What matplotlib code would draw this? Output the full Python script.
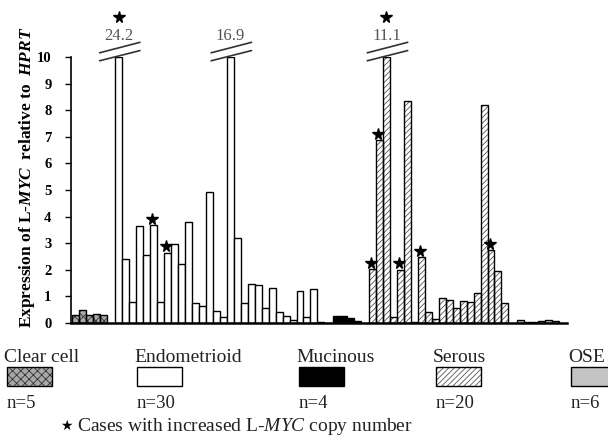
import matplotlib
matplotlib.use("Agg")
import matplotlib.pyplot as plt
from matplotlib.patches import Rectangle
import numpy as np

# ---------------- data ----------------
groups = ["Clear cell", "Endometrioid", "Mucinous", "Serous", "OSE"]
n_labels = ["n=5", "n=30", "n=4", "n=20", "n=6"]
clear_cell = [0.30, 0.50, 0.30, 0.32, 0.30]
endometrioid = [24.2, 2.40, 0.78, 3.66, 2.57, 3.68, 0.78, 2.65, 2.97, 2.22,
                3.81, 0.74, 0.64, 4.91, 0.45, 0.24, 16.9, 3.20, 0.76, 1.45,
                1.42, 0.56, 1.30, 0.40, 0.26, 0.10, 1.21, 0.22, 1.26, 0.03]
mucinous = [0.26, 0.26, 0.18, 0.09]
serous = [2.03, 6.88, 11.1, 0.22, 2.00, 8.35, 0.04, 2.48, 0.40, 0.16,
          0.94, 0.88, 0.55, 0.81, 0.79, 1.14, 8.18, 2.73, 1.96, 0.74]
ose = [0.10, 0.02, 0.02, 0.08, 0.10, 0.06]
stars_endometrioid = [0, 5, 7]
stars_serous = [0, 1, 2, 4, 7, 17]
y_ticks = list(range(0, 11))
y_max = 10
star_note = "Cases with increased L-$\\mathit{MYC}$ copy number"

plt.rcParams["font.family"] = ["Liberation Serif", "DejaVu Serif"]
plt.rcParams["mathtext.fontset"] = "custom"
plt.rcParams["mathtext.rm"] = "Liberation Serif"
plt.rcParams["mathtext.it"] = "Liberation Serif:italic"
plt.rcParams["mathtext.bf"] = "Liberation Serif:bold:italic"
plt.rcParams["hatch.linewidth"] = 0.6

W, H = 608, 446
fig = plt.figure(figsize=(W / 100, H / 100), dpi=100)
ax = fig.add_axes([71 / W, 123 / H, 496 / W, 266 / H])

series = [clear_cell, endometrioid, mucinous, serous, ose]
styles = [
    dict(fc="#a8a8a8", hatch="xxxx", hc="#333333"),
    dict(fc="white", hatch=None, hc=None),
    dict(fc="black", hatch=None, hc=None),
    dict(fc="white", hatch="//////", hc="#555555"),
    dict(fc="#c4c4c4", hatch=None, hc=None),
]
gap = 1.2
starts = []
pos = 0.0
for s in series:
    starts.append(pos)
    pos += len(s) + gap

centers = []
for s, st, sty in zip(series, starts, styles):
    x = st + np.arange(len(s))
    h = np.minimum(np.array(s), y_max)
    if sty["hatch"]:
        ax.bar(x, h, width=1.0, align="edge", facecolor=sty["fc"],
               edgecolor=sty["hc"], hatch=sty["hatch"], linewidth=0)
        ax.bar(x, h, width=1.0, align="edge", facecolor="none",
               edgecolor="black", linewidth=1.0)
    else:
        ax.bar(x, h, width=1.0, align="edge", facecolor=sty["fc"],
               edgecolor="black", linewidth=1.0)
    centers.append(x + 0.5)

px = 496 / (71.0 + 0.15)  # pixels per unit
ax.set_xlim(-0.15, 71.0)
ax.set_ylim(0, y_max)

def broken(xc, val, star):
    dx = 20 / px
    xs = [xc - dx + 0.15, xc + dx + 0.15]
    ax.plot(xs, [9.86, 10.24], color="#333333", lw=1.2, clip_on=False)
    ax.plot(xs, [10.16, 10.55], color="#333333", lw=1.2, clip_on=False)
    ax.text(xc, 10.78, f"{val}", ha="center", va="center", fontsize=12,
            color="#555555", clip_on=False)
    if star:
        ax.plot([xc], [11.5], marker="*", color="black", markersize=8.5,
                clip_on=False, linestyle="none")

for s, c, stars in [(endometrioid, centers[1], stars_endometrioid),
                    (serous, centers[3], stars_serous)]:
    for i, v in enumerate(s):
        if v > y_max:
            broken(c[i], v, i in stars)
        elif i in stars:
            ax.plot([c[i] - 0.2], [v + 0.24], marker="*", color="black",
                    markersize=8.5, clip_on=False, linestyle="none")

ax.spines["top"].set_visible(False)
ax.spines["right"].set_visible(False)
ax.spines["left"].set_linewidth(1.2)
ax.spines["bottom"].set_linewidth(1.8)
ax.set_xticks([])
ax.set_yticks(y_ticks)
ax.set_yticklabels([str(t) for t in y_ticks], fontweight="bold", fontsize=10.5)
ax.tick_params(axis="y", length=4, width=1, pad=10)

fig.text(27 / W, 1 - 177 / H,
         "Expression of L-$\\mathbf{MYC}$  relative to  $\\mathbf{HPRT}$",
         rotation=90, ha="center", va="center", fontsize=12.5,
         fontweight="bold")

# legend
lefts = [4, 134, 296, 433, 568]
for g, n, left, sty in zip(groups, n_labels, lefts, styles):
    fig.text(left / W, 1 - 362 / H, g, ha="left", va="baseline", fontsize=14,
             color="#222222")
    rx, ry, rw, rh = (left + 3) / W, 1 - 386 / H, 45 / W, 19 / H
    if sty["hatch"]:
        fig.patches.append(Rectangle((rx, ry), rw, rh, transform=fig.transFigure,
                                     facecolor=sty["fc"], edgecolor=sty["hc"],
                                     hatch=sty["hatch"], linewidth=0))
        fig.patches.append(Rectangle((rx, ry), rw, rh, transform=fig.transFigure,
                                     facecolor="none", edgecolor="black", linewidth=1))
    else:
        fig.patches.append(Rectangle((rx, ry), rw, rh, transform=fig.transFigure,
                                     facecolor=sty["fc"], edgecolor="black", linewidth=1))
    fig.text((left + 3) / W, 1 - 408 / H, n, ha="left", va="baseline",
             fontsize=13.5, color="#222222")

fig.text(66 / W, 1 - 426 / H, "★", family="DejaVu Sans", ha="center",
         va="center", fontsize=10)
fig.text(77 / W, 1 - 431 / H, star_note, ha="left", va="baseline",
         fontsize=14, color="#222222")

fig.savefig("out.png", dpi=100)
